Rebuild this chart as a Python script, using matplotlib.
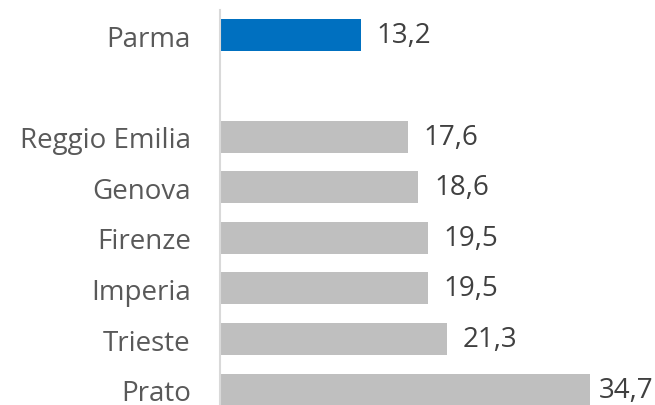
import matplotlib
matplotlib.use("Agg")
import matplotlib.pyplot as plt

categories = ["Parma", "", "Reggio Emilia", "Genova", "Firenze", "Imperia", "Trieste", "Prato"]
values = [13.2, None, 17.6, 18.6, 19.5, 19.5, 21.3, 34.7]
colors = ["#0070C0", None, "#BFBFBF", "#BFBFBF", "#BFBFBF", "#BFBFBF", "#BFBFBF", "#BFBFBF"]

plt.rcParams['font.family'] = ['Open Sans', 'DejaVu Sans']
W, H = 655, 406
fig = plt.figure(figsize=(W/100, H/100), dpi=100)
top_px, bot_px = 11, 416
left_px = 220
ax = fig.add_axes([left_px/W, 1 - bot_px/H, 1 - left_px/W, (bot_px - top_px)/H])

xmax = (W - left_px) / 10.66
ys = list(range(len(categories)))
for y, v, c in zip(ys, values, colors):
    if v is None:
        continue
    ax.barh(y, v, height=0.63, color=c)
    label = f"{v:.1f}".replace(".", ",")
    if v + 7 > xmax:
        ax.text(xmax - 0.1, y, label, va="center", ha="right", fontsize=20, color="#404040")
    else:
        ax.text(v + 1.5, y, label, va="center", ha="left", fontsize=20, color="#404040")

ax.set_ylim(len(categories) - 0.5, -0.5)
ax.set_xlim(0, xmax)
ax.set_yticks(ys)
ax.set_yticklabels(categories, fontsize=20, color="#595959")
ax.tick_params(axis="y", length=0, pad=21)
ax.set_xticks([])
for s in ["top", "right", "bottom"]:
    ax.spines[s].set_visible(False)
ax.spines["left"].set_color("#D9D9D9")
ax.spines["left"].set_linewidth(1.5)

fig.savefig("out.png", dpi=100)
